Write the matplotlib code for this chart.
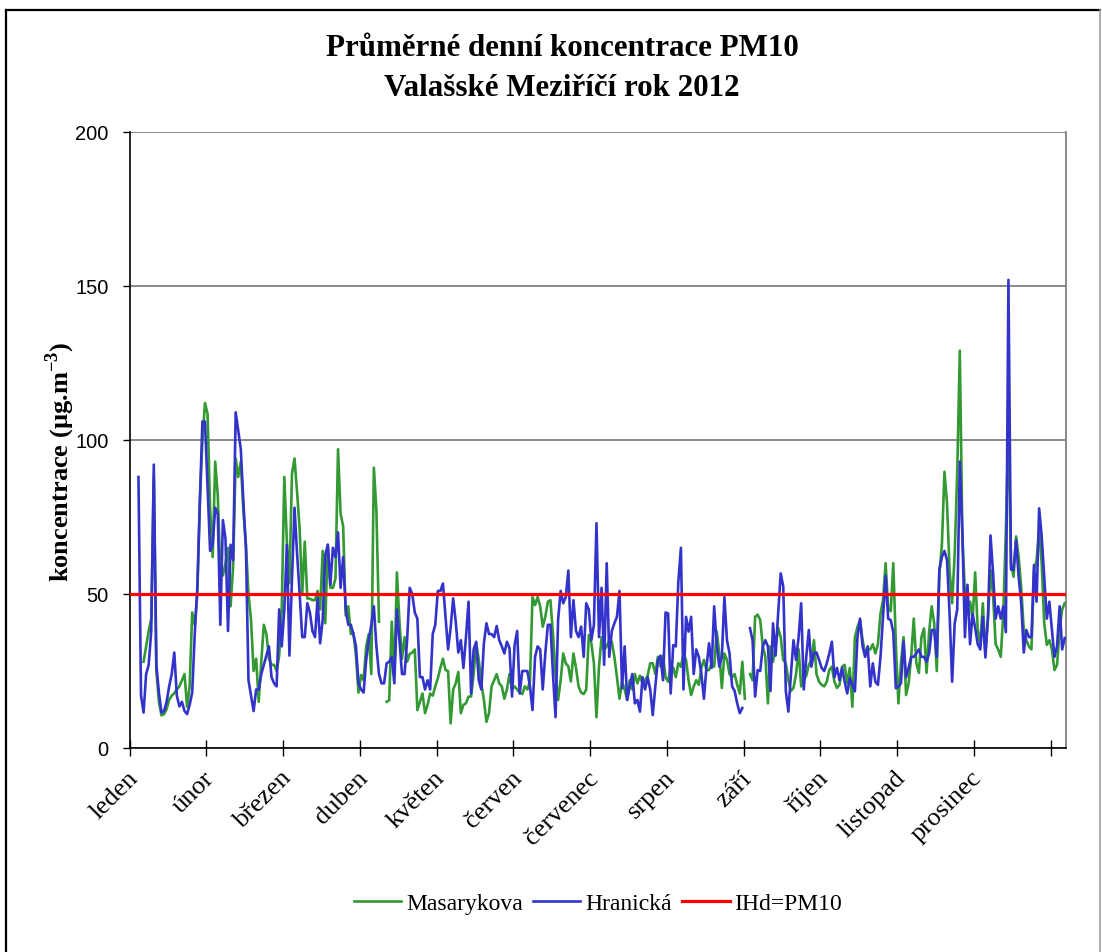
import numpy as np
import matplotlib
matplotlib.use("Agg")
import matplotlib.pyplot as plt
from matplotlib.lines import Line2D
from matplotlib.transforms import ScaledTranslation

nan = np.nan

months = ["leden", "únor", "březen", "duben", "květen", "červen",
          "červenec", "srpen", "září", "říjen", "listopad", "prosinec"]

# daily mean PM10 [µg/m3], 1 Jan - 31 Dec 2012 (366 days), nan = no data
masarykova = [
    nan, nan, nan, nan, nan, 28, 33, 38, 42, 88,
    25, 15, 10.6, 11, 12.6, 15.7, 17, 17.8, 19, 20,
    22, 24, 13.4, 20, 44, 40, 50, 80, 100, 112,
    108.5, 78, 62, 93, 82, 57, 56, 60, 65, 46,
    59, 94, 88, 93, 77, 66, 50, 41.5, 25, 29,
    15, 28, 40, 37, 29, 27, 27, 25, 30, 45,
    88, 67, 53.5, 89, 94, 83, 71, 50, 67, 48.5,
    48.5, 48, 48, 51, 45, 64, 40.5, 66, 52, 52,
    55, 97, 76, 72, 43, 46, 37, 37.4, 30, 18,
    23.7, 22, 33, 37, 24, 91, 77, 41, nan, nan,
    15, 15.5, 41, 23, 57, 41, 29, 36, 28, 30.5,
    31, 32, 12.3, 15, 17.7, 11.3, 14, 17.7, 17, 20,
    22.6, 26, 29, 25.3, 25, 8, 19, 21, 24.7, 11.3,
    14, 14.5, 16.7, 16.7, 24, 34, 28.6, 21, 15.6, 8.5,
    11.3, 20, 22, 24, 21, 20, 16, 19, 24, 19,
    20, 19, 18, 17.5, 20, 19, 21.6, 49, 46.4, 49,
    46, 39.4, 42.6, 47.5, 48, 37, 24, 15.6, 22, 30.7,
    27.5, 26.5, 21.6, 30.7, 26, 20, 18, 17.5, 19, 36.7,
    34, 27.5, 10, 26.5, 36, 32, 33, 35, 34.5, 29.6,
    23, 16, 21.6, 19, 15.6, 22, 19, 24, 21, 23.5,
    21, 22, 23.5, 27.5, 27.5, 24, 29.6, 26.5, 30, 23,
    21.5, 26.4, 26, 23, 27.5, 26.4, 30.7, 28.6, 22, 17.2,
    20, 22, 20.5, 26, 28.6, 25.3, 25.3, 27.5, 26.4, 37.8,
    30.7, 19.5, 30.7, 28.6, 24, 23, 24, 20.5, 17.7, 28,
    16, nan, 24, 22, 42.6, 43.3, 41.5, 33, 29.6, 14.5,
    33, 28, 33, 39, 36, 28.6, 27.5, 22, 18.5, 19.5,
    24, 32, 20, 22, 23.5, 27, 28.6, 35, 24, 21.5,
    20.5, 20, 21.5, 25.3, 26.4, 21.5, 19.5, 20.5, 26.4, 27,
    21, 26, 13.4, 36, 39.3, 41.5, 35, 30.7, 32, 32,
    33.7, 30.7, 33.7, 43.7, 48, 60, 45.5, 44.4, 60, 33.7,
    14.5, 27.6, 36, 17.2, 21, 29.6, 42, 27.6, 24.4, 36,
    38.8, 24.4, 37.6, 46, 40.5, 25, 56.7, 66, 89.7, 79.4,
    57.8, 47, 63, 90, 129, 68.7, 50.3, 46, 47.5, 42,
    57, 38.3, 33.7, 47, 30.7, 42, 57.8, 49.6, 33.7, 32,
    29.6, 43.6, 70.6, 104, 60, 55.6, 68.7, 62, 52, 38.3,
    35, 33, 32, 57.8, 61, 70.6, 60, 40.5, 33.5, 35,
    32, 25.3, 27, 38.3, 45, 47,
]

hranicka = [
    nan, nan, nan, 88, 17, 11.5, 24, 27, 38, 92,
    27, 18, 11.5, 12, 15, 20, 24, 31, 17, 13.5,
    15, 12, 11, 14, 18, 37, 52, 80, 106, 106,
    85, 64, 66, 78, 76, 40, 74, 68, 38, 66,
    61, 109, 103, 97, 80, 65, 22, 17, 12, 19,
    19, 24, 27, 30, 33, 23, 21, 20, 45, 33,
    45, 66, 30, 55, 78, 63, 50, 36, 36, 47,
    44, 38, 36, 48.6, 34, 41.5, 62.7, 66, 53, 65,
    62, 70, 52, 62, 45, 40, 40, 37, 33, 21,
    19, 18, 28.6, 35, 40, 46, 33, 24, 21, 21,
    27.5, 28, 29.6, 21, 45, 35, 24, 24, 35, 52,
    50, 44, 42, 23, 23, 19, 22, 19, 37, 40,
    51, 51, 53.4, 42.6, 32, 39, 48.6, 41, 31, 35,
    26, 36, 47.5, 17.7, 32, 34.5, 22, 19, 34, 40.5,
    37, 37, 36, 39.6, 35, 33, 30.7, 34.5, 32.5, 16.7,
    33.4, 38, 17.7, 25, 25, 25, 20, 12.3, 29.6, 33,
    32, 19, 30.7, 40, 40, 24, 10, 41.5, 51, 47,
    49, 57.6, 36, 48, 38, 36, 39.4, 29.6, 47, 45,
    35, 40, 73, 36, 52, 27, 60, 29.6, 38, 40.5,
    42.6, 51, 19.4, 33, 15.6, 20, 24, 14.5, 15.6, 11.8,
    23, 19, 23, 19, 10.7, 20, 28.6, 30, 22, 44,
    43.7, 17.7, 33.4, 33, 54, 65, 19, 42.6, 37.8, 42.6,
    24, 32, 29.6, 24, 16, 26.4, 34, 26, 46, 33.4,
    26.4, 29.6, 49, 35, 30.7, 20, 18.5, 14.5, 11.3, 13,
    nan, nan, 38.9, 35, 16.7, 25.3, 25, 33, 35, 33,
    18.5, 40.5, 30, 43.7, 56.7, 52.4, 18.5, 11.8, 24, 35,
    28.6, 36, 47, 19, 29.6, 38.3, 26.4, 31, 31, 28.6,
    26, 25, 27.5, 30.7, 34.5, 23, 26, 22, 26, 21.5,
    17.7, 22.8, 20.5, 18.4, 36, 42, 33, 29.6, 33, 20,
    27.5, 21.5, 20.5, 29.6, 42.6, 56, 42, 41.5, 37.6, 19.4,
    20, 21, 34.6, 23, 26, 29.6, 29.6, 30.7, 32, 29.6,
    29.6, 28, 30.7, 38.3, 38.3, 29.6, 57.8, 62, 64, 61,
    43.6, 21.5, 40.5, 45, 93, 69.7, 36, 53, 33.7, 43.6,
    39, 33.7, 32, 42.6, 29.4, 42.6, 69, 56.7, 42, 46,
    42, 46, 37.6, 152, 58, 57.8, 67.5, 55.6, 47, 31,
    38.3, 36, 36, 59.4, 47.5, 77.8, 68.7, 55.6, 42, 47.5,
    38.3, 29.6, 33, 46, 32, 35.7,
]

ihd_pm10 = 50          # daily limit value for PM10
y_ticks = [0, 50, 100, 150, 200]
days_per_tick = 30

assert len(masarykova) == 366 and len(hranicka) == 366

plt.rcParams["mathtext.fontset"] = "custom"
plt.rcParams["mathtext.rm"] = "Liberation Serif"
plt.rcParams["mathtext.bf"] = "Liberation Serif:bold"

W, H = 1102, 952
fig = plt.figure(figsize=(W / 100, H / 100), dpi=100)
fig.patch.set_facecolor("white")

x0, x1, y0, y1 = 129.5, 1066, 132, 748
ax = fig.add_axes([x0 / W, 1 - y1 / H, (x1 - x0) / W, (y1 - y0) / H])

n = len(masarykova)
days = np.arange(n) + 0.5
ax.plot(days, masarykova, color="#339933", lw=1.9, label="Masarykova", zorder=3)
ax.plot(days, hranicka, color="#3333CC", lw=1.9, label="Hranická", zorder=4)
ax.plot(days, np.full(n, ihd_pm10), color="#FF0000", lw=2.3, label="IHd=PM10", zorder=5)

ax.set_yticks(y_ticks)
ax.yaxis.grid(True, color="#808080", lw=1.3, zorder=1)
ax.set_axisbelow(True)

for s in ("left", "bottom"):
    ax.spines[s].set_color("black")
    ax.spines[s].set_linewidth(1.2)
ax.spines["top"].set_visible(False)
ax.spines["right"].set_color("#808080")
ax.spines["right"].set_linewidth(1.3)

ax.tick_params(axis="y", direction="out", length=5, width=1, pad=10,
               labelsize=14.4, colors="black")
for t in ax.get_yticklabels():
    t.set_fontfamily("Liberation Sans")

# tick marks every 30 days
tick_days = np.arange(0, n + 1, days_per_tick)
ax.set_xticks(tick_days)
ax.tick_params(axis="x", which="major", direction="inout", length=11, width=1,
               labelbottom=False)
ax.set_xlim(0, n)
ax.set_ylim(y_ticks[0], y_ticks[-1])

# month names, slanted, ending just below each tick mark
label_shift = ScaledTranslation(-2.2 / 72, -14 / 72, fig.dpi_scale_trans)
for d, m in zip(tick_days, months):
    ax.text(d, 0, m, transform=ax.get_xaxis_transform() + label_shift,
            rotation=45, rotation_mode="anchor", ha="right", va="top",
            family="Liberation Serif", fontsize=19, clip_on=False)

serif_bold = dict(family="Liberation Serif", weight="bold")
fig.text(562 / W, 1 - 48 / H, "Průměrné denní koncentrace PM10",
         ha="center", va="center", fontsize=22.3, **serif_bold)
fig.text(562 / W, 1 - 88 / H, "Valašské Meziříčí rok 2012",
         ha="center", va="center", fontsize=22.3, **serif_bold)
fig.text(60 / W, 1 - 462 / H, r"koncentrace (µg.m$^{\mathbf{-3}}$)",
         ha="center", va="center", rotation=90, fontsize=19, **serif_bold)

fig.legend(loc="center", bbox_to_anchor=(598 / W, 1 - 904 / H), ncol=3,
           frameon=False, prop=dict(family="Liberation Serif", size=17),
           handlelength=2.0, handletextpad=0.2, columnspacing=0.45)

# frame around the whole chart
fig.add_artist(Line2D([6 / W, 6 / W], [0, 1 - 10 / H], color="black", lw=1.6))
fig.add_artist(Line2D([6 / W, 1100 / W], [1 - 10 / H, 1 - 10 / H], color="black", lw=1.6))
fig.add_artist(Line2D([1100 / W, 1100 / W], [0, 1 - 10 / H], color="#A0A0A0", lw=1.2))

fig.savefig("out.png", dpi=100)
